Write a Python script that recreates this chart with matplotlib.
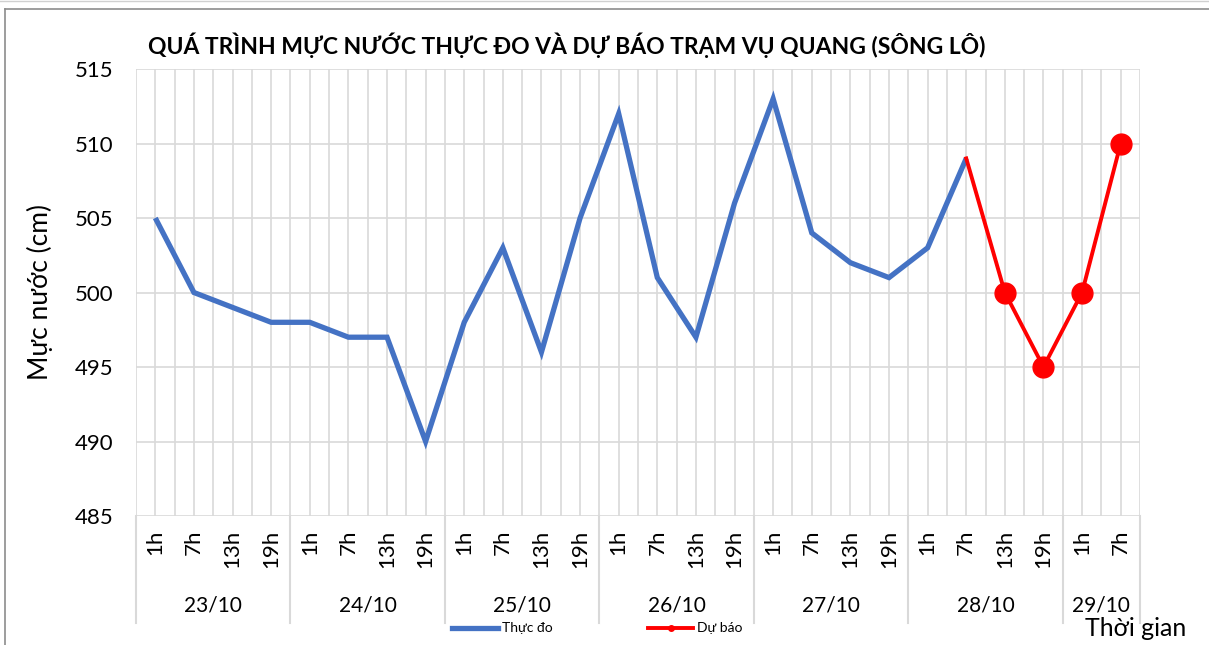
import matplotlib
matplotlib.use("Agg")
import matplotlib.pyplot as plt
from matplotlib.lines import Line2D
import matplotlib.transforms as mtransforms

plt.rcParams['font.family'] = ['Lato', 'DejaVu Sans']

days = ["23/10", "24/10", "25/10", "26/10", "27/10", "28/10", "29/10"]
hours_per_day = [["1h", "7h", "13h", "19h"]] * 6 + [["1h", "7h"]]
hour_labels = [h for hs in hours_per_day for h in hs]

observed = [505, 500, 499, 498, 498, 497, 497, 490, 498, 503, 496, 505,
            512, 501, 497, 506, 513, 504, 502, 501, 503, 509]
forecast_start = 21  # index of 28/10 7h
forecast = [509, 500, 495, 500, 510]

W, H = 1209, 645
fig = plt.figure(figsize=(W / 100, H / 100), dpi=100)
L, R, T, B = 136, 1140, 69, 516
ax = fig.add_axes([L / W, 1 - B / H, (R - L) / W, (B - T) / H])

n = len(hour_labels)
ax.set_xlim(-0.5, n - 0.5)
ax.set_ylim(485, 515)
ax.set_yticks(range(485, 516, 5))
ax.set_xticks(range(n))
ax.set_xticklabels(hour_labels, rotation=90, fontsize=16, va='top', ha='center')
ax.set_xticks([i - 0.5 for i in range(n + 1)], minor=True)
ax.tick_params(axis='x', which='both', length=0, pad=10)
ax.tick_params(axis='y', length=0, pad=16, labelsize=16)
for s in ax.spines.values():
    s.set_visible(False)
ax.grid(axis='y', which='major', color='#D9D9D9', lw=1.2)
ax.grid(axis='x', which='both', color='#D9D9D9', lw=1.2)
ax.set_axisbelow(True)

xs_obs = list(range(len(observed)))
ax.plot(xs_obs, observed, color='#4472C4', lw=3.8, solid_joinstyle='miter',
        solid_capstyle='butt', zorder=3)
xs_fc = list(range(forecast_start, forecast_start + len(forecast)))
ax.plot(xs_fc, forecast, color='#FF0000', lw=2.8, zorder=4)
ax.plot(xs_fc[1:], forecast[1:], 'o', color='#FF0000', ms=15, zorder=5)

# day separators and labels
trans = mtransforms.blended_transform_factory(ax.transData, ax.transAxes)
bottom_ext = -(623 - B) / (B - T)
pos = -0.5
bounds = [pos]
for hs in hours_per_day:
    pos += len(hs)
    bounds.append(pos)
for b in bounds:
    ax.plot([b, b], [0, bottom_ext], transform=trans, color='#D9D9D9', lw=1.5,
            clip_on=False, zorder=1)
date_y = -(605 - B) / (B - T)
for i, d in enumerate(days):
    c = (bounds[i] + bounds[i + 1]) / 2
    ax.text(c, date_y, d, transform=trans, ha='center', va='center', fontsize=15)

ax.set_ylabel("Mực nước (cm)", fontsize=19)
ax.yaxis.set_label_coords(-(L - 53) / (R - L), 0.5)

fig.text(148 / W, 1 - 45 / H, "QUÁ TRÌNH MỰC NƯỚC THỰC ĐO VÀ DỰ BÁO TRẠM VỤ QUANG (SÔNG LÔ)",
         fontsize=16.5, fontweight='bold', ha='left', va='center')

# legend
ly = 1 - 628 / H
fig.add_artist(Line2D([452 / W, 498 / W], [ly, ly], color='#4472C4', lw=3.8))
fig.text(502 / W, ly, "Thực đo", fontsize=10, ha='left', va='center')
fig.add_artist(Line2D([648 / W, 693 / W], [ly, ly], color='#FF0000', lw=2.8))
fig.add_artist(Line2D([670.5 / W], [ly], marker='o', color='#FF0000', ms=4))
fig.text(697 / W, ly, "Dự báo", fontsize=10, ha='left', va='center')

fig.text(1085 / W, 1 - 629 / H, "Thời gian", fontsize=18, ha='left', va='center')

# outer frame
fig.add_artist(Line2D([5 / W, 1], [1 - 9 / H, 1 - 9 / H], color='#8C8C8C', lw=1.2))
fig.add_artist(Line2D([5 / W, 5 / W], [1 - 9 / H, 0], color='#8C8C8C', lw=1.2))
fig.add_artist(Line2D([0, 1], [1 - 0.5 / H, 1 - 0.5 / H], color='#D0D0D0', lw=1))

fig.savefig("out.png", dpi=100)
